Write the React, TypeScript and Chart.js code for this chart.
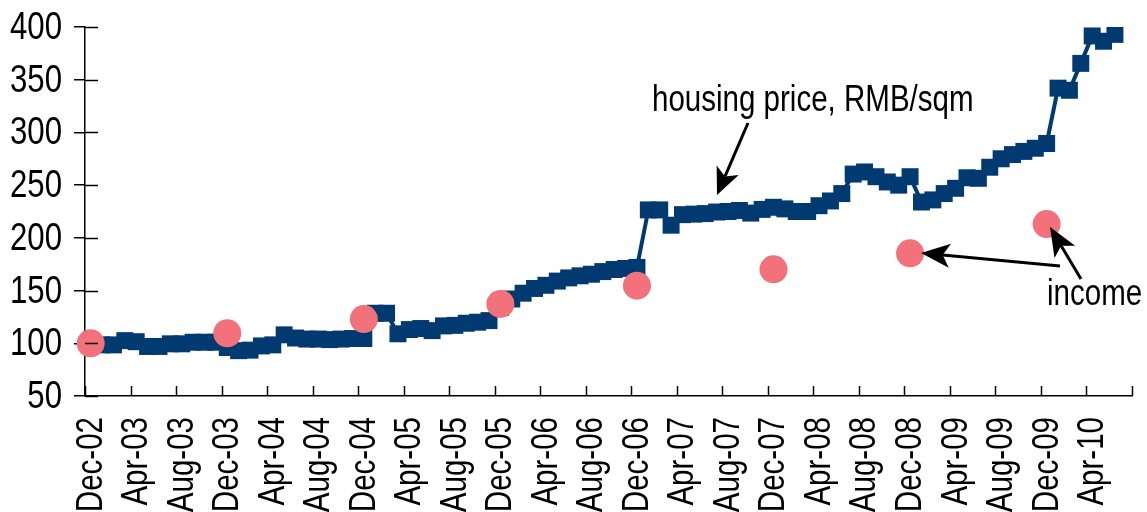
import React, { useEffect, useRef } from "react";
import { Chart, registerables } from "chart.js";

Chart.register(...registerables);

// ---- Data ----
const MONTHS: string[] = [
  "Dec-02",
  "Jan-03", "Feb-03", "Mar-03", "Apr-03", "May-03", "Jun-03", "Jul-03", "Aug-03", "Sep-03", "Oct-03", "Nov-03", "Dec-03",
  "Jan-04", "Feb-04", "Mar-04", "Apr-04", "May-04", "Jun-04", "Jul-04", "Aug-04", "Sep-04", "Oct-04", "Nov-04", "Dec-04",
  "Jan-05", "Feb-05", "Mar-05", "Apr-05", "May-05", "Jun-05", "Jul-05", "Aug-05", "Sep-05", "Oct-05", "Nov-05", "Dec-05",
  "Jan-06", "Feb-06", "Mar-06", "Apr-06", "May-06", "Jun-06", "Jul-06", "Aug-06", "Sep-06", "Oct-06", "Nov-06", "Dec-06",
  "Jan-07", "Feb-07", "Mar-07", "Apr-07", "May-07", "Jun-07", "Jul-07", "Aug-07", "Sep-07", "Oct-07", "Nov-07", "Dec-07",
  "Jan-08", "Feb-08", "Mar-08", "Apr-08", "May-08", "Jun-08", "Jul-08", "Aug-08", "Sep-08", "Oct-08", "Nov-08", "Dec-08",
  "Jan-09", "Feb-09", "Mar-09", "Apr-09", "May-09", "Jun-09", "Jul-09", "Aug-09", "Sep-09", "Oct-09", "Nov-09", "Dec-09",
  "Jan-10", "Feb-10", "Mar-10", "Apr-10", "May-10", "Jun-10", "Jul-10",
];

// housing price index (Dec-02 = 100), monthly from Dec-02 to Jun-10
const HOUSING_PRICE: number[] = [
  100,
  98.5, 98.5, 102.5, 101.5, 97, 97, 99.5, 99.5, 101, 101, 101, 96,
  93, 93.5, 97.5, 98.5, 108, 105, 104, 104, 103.5, 104, 104.5, 104.5,
  128.5, 128.5, 109, 113, 114, 112, 116.5, 117, 119, 120, 121.5, 134,
  142, 147.5, 152, 155, 159, 162, 164, 165.5, 168, 170, 171, 172,
  226.5, 226.5, 212, 222, 222.5, 223, 224.5, 225, 226, 223.5, 227, 229,
  227.5, 225, 225, 230.5, 235, 242, 260.5, 262.5, 258, 253, 250, 258,
  234, 236, 242, 247, 257, 256.5, 267, 275, 279, 282, 285, 289.5,
  342, 340, 365.5, 391.5, 386.5, 393,
];

// income index, one value each December (Dec-02 .. Dec-09)
const INCOME_DEC: number[] = [100, 109.5, 123, 137.3, 154.6, 170.2, 185.3, 213.1];

const Y_MIN = 50;
const Y_MAX = 400;
const Y_STEP = 50;
const X_LABEL_EVERY = 4;

const HOUSING_LABEL = "housing price, RMB/sqm";
const INCOME_LABEL = "income";

// ---- Styles ----
// Liberation Sans compressed horizontally to emulate a narrow (Arial Narrow-like) face
const FONT = "'Liberation Sans', Arial, sans-serif";
const NARROW = 0.82;
const BLUE = "#003A70";
const PINK = "#F2717B";

function narrowText(
  ctx: CanvasRenderingContext2D,
  text: string,
  x: number, y: number,
  size: number,
  align: CanvasTextAlign,
  baseline: CanvasTextBaseline,
  rotate = 0
) {
  ctx.save();
  ctx.translate(x, y);
  if (rotate) ctx.rotate(rotate);
  ctx.scale(NARROW, 1);
  ctx.font = `${size}px ${FONT}`;
  ctx.textAlign = align;
  ctx.textBaseline = baseline;
  ctx.fillStyle = "#000";
  ctx.fillText(text, 0, 0);
  ctx.restore();
}

function drawArrow(
  ctx: CanvasRenderingContext2D,
  x1: number, y1: number, x2: number, y2: number,
  len: number, half: number, width: number
) {
  const a = Math.atan2(y2 - y1, x2 - x1);
  const cos = Math.cos(a), sin = Math.sin(a);
  const bx = x2 - len * cos, by = y2 - len * sin;
  const nx = x2 - len * 0.75 * cos, ny = y2 - len * 0.75 * sin;
  ctx.lineWidth = width;
  ctx.beginPath();
  ctx.moveTo(x1, y1);
  ctx.lineTo(nx, ny);
  ctx.stroke();
  ctx.beginPath();
  ctx.moveTo(x2, y2);
  ctx.lineTo(bx + half * sin, by - half * cos);
  ctx.lineTo(nx, ny);
  ctx.lineTo(bx - half * sin, by + half * cos);
  ctx.closePath();
  ctx.fill();
}

const annotationPlugin = {
  id: "annotations",
  afterDraw(chart: any) {
    const { ctx } = chart;
    const x = chart.scales.x;
    const y = chart.scales.y;
    ctx.save();
    ctx.strokeStyle = "#000";
    ctx.fillStyle = "#000";
    ctx.lineWidth = 1.5;
    // inward tick marks on the x axis at every 4th month boundary
    const n = MONTHS.length;
    for (let i = 0; i <= n; i += X_LABEL_EVERY) {
      const px = Math.round(x.left + ((x.right - x.left) * i) / n) + 0.5;
      ctx.beginPath();
      ctx.moveTo(px, y.bottom);
      ctx.lineTo(px, y.bottom - 10);
      ctx.stroke();
    }
    // inward part of y tick marks + y tick labels
    y.ticks.forEach((t: any) => {
      const py = Math.round(y.getPixelForValue(t.value)) + 0.5;
      ctx.beginPath();
      ctx.moveTo(x.left, py);
      ctx.lineTo(x.left + 13, py);
      ctx.stroke();
      narrowText(ctx, String(t.value), x.left - 23, py + 1, 38, "right", "middle");
    });
    // x tick labels (rotated)
    for (let i = 0; i < n; i += X_LABEL_EVERY) {
      const px = x.getPixelForTick(i);
      narrowText(ctx, MONTHS[i], px + 1, y.bottom + 21, 36, "right", "middle", -Math.PI / 2);
    }
    // annotation labels
    narrowText(ctx, HOUSING_LABEL, 652, 111, 36, "left", "alphabetic");
    narrowText(ctx, INCOME_LABEL, 1047, 305, 36, "left", "alphabetic");
    // arrows
    ctx.fillStyle = "#000";
    drawArrow(ctx, 748, 123, 717, 195, 27, 12, 3);
    drawArrow(ctx, 1060, 266, 921, 253, 29, 12, 3);
    drawArrow(ctx, 1081, 279, 1050, 227, 29, 12, 3);
    ctx.restore();
  },
};

export default function App() {
  const ref = useRef<HTMLCanvasElement>(null);

  useEffect(() => {
    if (!ref.current) return;
    const incomeSeries: (number | null)[] = MONTHS.map(() => null);
    let k = 0;
    MONTHS.forEach((m, i) => {
      if (m.startsWith("Dec") && k < INCOME_DEC.length) {
        incomeSeries[i] = INCOME_DEC[k++];
      }
    });

    const chart = new Chart(ref.current, {
      type: "line",
      data: {
        labels: MONTHS,
        datasets: [
          {
            label: "income",
            data: incomeSeries,
            showLine: false,
            pointStyle: "circle",
            pointRadius: 14,
            pointHoverRadius: 14,
            pointBackgroundColor: PINK,
            pointBorderWidth: 0,
            borderColor: PINK,
            backgroundColor: PINK,
            order: 0,
          },
          {
            label: "housing price",
            data: HOUSING_PRICE,
            borderColor: BLUE,
            backgroundColor: BLUE,
            borderWidth: 4,
            tension: 0,
            pointStyle: "rect",
            pointRadius: 12,
            pointHoverRadius: 12,
            pointBackgroundColor: BLUE,
            pointBorderWidth: 0,
            order: 1,
          },
        ],
      },
      options: {
        responsive: true,
        maintainAspectRatio: false,
        animation: false,
        events: [],
        layout: { padding: { top: 27, right: 15, left: 0, bottom: 0 } },
        plugins: {
          legend: { display: false },
          tooltip: { enabled: false },
          title: { display: false },
        },
        scales: {
          x: {
            type: "category",
            offset: true,
            grid: { display: false, offset: true },
            border: { display: true, color: "#000", width: 1.5 },
            ticks: { display: false, autoSkip: false, maxRotation: 0 },
            afterFit: (s: any) => {
              s.height = 116;
              s.paddingLeft = 0;
              s.paddingRight = 0;
            },
          },
          y: {
            min: Y_MIN,
            max: Y_MAX,
            ticks: { display: false, stepSize: Y_STEP },
            grid: {
              drawOnChartArea: false,
              drawTicks: true,
              tickLength: 11,
              color: "#000",
              lineWidth: 1.5,
            },
            border: { display: true, color: "#000", width: 1.5 },
            afterFit: (s: any) => {
              s.width = 85;
              s.paddingTop = 0;
              s.paddingBottom = 0;
            },
          },
        },
      },
      plugins: [annotationPlugin],
    });

    return () => chart.destroy();
  }, []);

  return (
    <div style={{ position: "fixed", left: 0, top: 0, width: 1147, height: 512, background: "#fff" }}>
      <canvas ref={ref} />
    </div>
  );
}
